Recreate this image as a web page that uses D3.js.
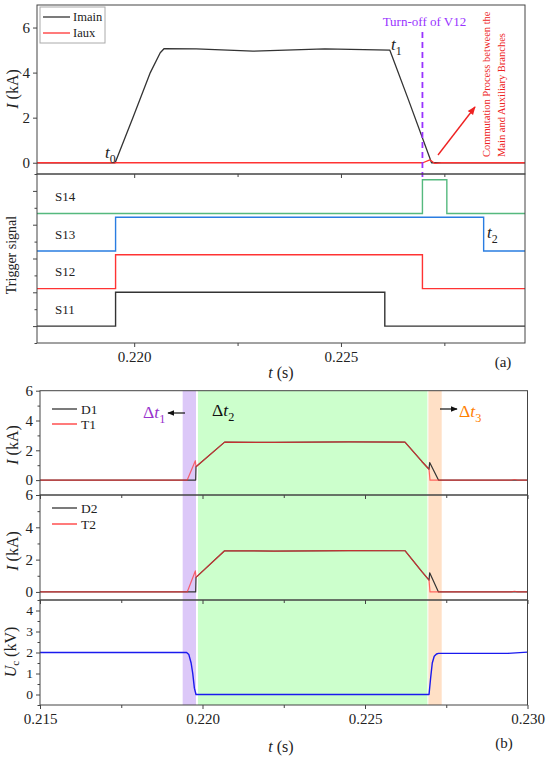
<!DOCTYPE html>
<html>
<head>
<meta charset="utf-8">
<script src="https://d3js.org/d3.v7.min.js"></script>
<style>
    body { margin: 0; background: #ffffff; }
    svg text { font-family: "Liberation Serif", "Times New Roman", serif; fill: #222; }
</style>
</head>
<body>
<div id="svgdiv"></div>
<script>
// ---- data ----
// (a) main / auxiliary branch current (kA)
var imainTime = [0.21765, 0.21954, 0.21998, 0.22039, 0.22063, 0.22072, 0.2215, 0.22287, 0.22461, 0.22618, 0.22663, 0.22719, 0.22945];
var imainCurr = [0, 0, 2.05, 4.0, 4.88, 5.06, 5.05, 4.95, 5.05, 5.0, 2.8, 0, 0];
var iauxTime = [0.21765, 0.22698, 0.22715, 0.22727, 0.22743, 0.22945];
var iauxCurr = [0, 0, 0.13, -0.03, 0, 0];

// (a) trigger signals, step edges (state 0/1) and vertical offset of each trace
var s11Time = [0.21765, 0.21955, 0.22606, 0.22945];
var s11State = [0, 1, 0, 0];
var s12Time = [0.21765, 0.21955, 0.22697, 0.22945];
var s12State = [0, 1, 0, 0];
var s13Time = [0.21765, 0.21955, 0.22845, 0.22945];
var s13State = [0, 1, 0, 0];
var s14Time = [0.21765, 0.22697, 0.22756, 0.22945];
var s14State = [0, 1, 0, 0];
var trigNames = ["S11", "S12", "S13", "S14"];
var trigBase = [0, 1.11, 2.22, 3.33];
var turnOffTime = 0.22697;

// (b) diode / IGBT currents (kA)
var d1Time = [0.215, 0.21979, 0.2198, 0.22068, 0.2222, 0.2245, 0.22623, 0.22675, 0.22697, 0.22699, 0.22726, 0.23];
var d1Curr = [0, 0, 0.9, 2.55, 2.53, 2.56, 2.55, 1.25, 0.73, 1.18, 0, 0];
var t1Time = [0.215, 0.21953, 0.21978, 0.2198, 0.22068, 0.2222, 0.2245, 0.22623, 0.22675, 0.22697, 0.227, 0.2295, 0.2296, 0.2297, 0.23];
var t1Curr = [0, 0, 1.3, 0.9, 2.55, 2.53, 2.56, 2.55, 1.25, 0.73, 0, 0, 0.04, 0, 0];
var d2Time = [0.215, 0.21979, 0.2198, 0.22068, 0.2222, 0.2245, 0.22623, 0.22675, 0.22697, 0.22699, 0.22726, 0.23];
var d2Curr = [0, 0, 0.9, 2.55, 2.53, 2.56, 2.55, 1.25, 0.73, 1.18, 0, 0];
var t2Time = [0.215, 0.21953, 0.21978, 0.2198, 0.22068, 0.2222, 0.2245, 0.22623, 0.22675, 0.22697, 0.227, 0.2295, 0.2296, 0.2297, 0.23];
var t2Curr = [0, 0, 1.3, 0.9, 2.55, 2.53, 2.56, 2.55, 1.25, 0.73, 0, 0, 0.04, 0, 0];

// (b) capacitor voltage (kV)
var ucTime = [0.215, 0.21951, 0.21958, 0.21965, 0.2197, 0.21975, 0.2198, 0.22697, 0.22702, 0.22707, 0.22713, 0.2272, 0.22726, 0.2294, 0.23];
var ucVolt = [2.0, 2.0, 1.9, 1.5, 1.0, 0.3, 0, 0, 0.8, 1.5, 1.82, 1.93, 1.96, 1.96, 2.02];

// (b) shaded intervals dt1, dt2, dt3
var shadeStart = [0.21939, 0.21986, 0.22695];
var shadeEnd = [0.2198, 0.22692, 0.22736];

// tick values
var xTicksA = [0.220, 0.225];
var xMinorA = [0.2225, 0.2275];
var xTicksB = [0.215, 0.220, 0.225, 0.230];
var xMinorB = [0.2175, 0.2225, 0.2275];

// ---- Step 1: svg ----
var svg = d3.select("#svgdiv").append("svg")
    .attr("width", 550)
    .attr("height", 760)
    .style("font-family", "'Liberation Serif', 'Times New Roman', serif");

var defs = svg.append("defs");
function marker(id, color) {
    defs.append("marker")
        .attr("id", id)
        .attr("viewBox", "0 0 10 10")
        .attr("refX", 9).attr("refY", 5)
        .attr("markerWidth", 6).attr("markerHeight", 6)
        .attr("orient", "auto-start-reverse")
        .append("path")
        .attr("d", "M0,1 L10,5 L0,9 Z")
        .attr("fill", color);
}
marker("arrRed", "#ee2222");
marker("arrBlack", "#111");

var frameColor = "#444";
var serif = "'Liberation Serif', 'Times New Roman', serif";

// ---- Step 2: scales ----
var xA = d3.scaleLinear().domain([0.21765, 0.22945]).range([37, 525]);
var yTop = d3.scaleLinear().domain([-0.5, 7]).range([174, 5]);
var yTrig = d3.scaleLinear().domain([-0.5, 4.5]).range([343, 174]);

var xB = d3.scaleLinear().domain([0.215, 0.230]).range([40, 527.5]);
var yB1 = d3.scaleLinear().domain([-1, 6]).range([495, 390.7]);
var yB2 = d3.scaleLinear().domain([-0.5, 6]).range([600, 495]);
var yB3 = d3.scaleLinear().domain([-0.5, 4.5]).range([705, 600]);

// helpers for axes
function styleAxis(g, fs) {
    g.selectAll(".domain").remove();
    g.selectAll("g").style("font-family", serif).style("font-size", fs + "px");
    g.selectAll(".tick line").attr("stroke", frameColor);
    g.selectAll(".tick text")
        .style("font-size", fs + "px")
        .style("font-family", serif)
        .style("fill", "#222");
}
function leftAxis(scale, x, major, minor, labels, fs) {
    var g = svg.append("g").attr("transform", `translate(${x},0)`);
    g.append("g").call(d3.axisLeft(scale).tickValues(minor).tickSize(2.5).tickFormat(""));
    g.append("g").call(d3.axisLeft(scale).tickValues(major).tickSize(4).tickPadding(3)
        .tickFormat(labels ? d3.format("d") : ""));
    styleAxis(g, fs || 15);
}
function bottomAxis(scale, y, major, minor, labels) {
    var g = svg.append("g").attr("transform", `translate(0,${y})`);
    g.append("g").call(d3.axisBottom(scale).tickValues(minor).tickSize(3).tickFormat(""));
    g.append("g").call(d3.axisBottom(scale).tickValues(major).tickSize(4).tickPadding(4)
        .tickFormat(labels ? d3.format(".3f") : ""));
    styleAxis(g, 15);
}
function drawLine(times, vals, xs, ys, color, width, opacity) {
    var pts = times.map((t, i) => [t, vals[i]]);
    svg.append("path")
        .datum(pts)
        .attr("fill", "none")
        .attr("stroke", color)
        .attr("stroke-width", width)
        .attr("stroke-opacity", opacity || 1)
        .attr("stroke-linejoin", "round")
        .attr("d", d3.line().x(d => xs(d[0])).y(d => ys(d[1])));
}
function frame(x0, y0, x1, y1) {
    svg.append("rect")
        .attr("x", x0).attr("y", y0)
        .attr("width", x1 - x0).attr("height", y1 - y0)
        .attr("fill", "none")
        .attr("stroke", frameColor)
        .attr("stroke-width", 1);
}
// italic variable with subscript, e.g. Δt1
function varText(x, y, pre, v, sub, color, size) {
    var t = svg.append("text").attr("x", x).attr("y", y)
        .style("font-size", size + "px").style("fill", color);
    if (pre) t.append("tspan").text(pre);
    t.append("tspan").attr("font-style", "italic").text(v);
    t.append("tspan").style("font-size", (size * 0.7) + "px").attr("dy", size * 0.3).text(sub);
    return t;
}
function yLabel(x, y, size, parts) {
    var t = svg.append("text")
        .attr("transform", `translate(${x},${y}) rotate(-90)`)
        .attr("text-anchor", "middle")
        .style("font-size", size + "px");
    parts.forEach(function(p) {
        var s = t.append("tspan").text(p.text);
        if (p.italic) s.attr("font-style", "italic");
        if (p.size) s.style("font-size", p.size + "px");
        if (p.dy) s.attr("dy", p.dy);
    });
}

// ---- Step 3: panel (a) top, currents ----
drawLine(imainTime, imainCurr, xA, yTop, "#333333", 1.3);
drawLine(iauxTime, iauxCurr, xA, yTop, "#ff3333", 1.3);

// turn-off marker
svg.append("line")
    .attr("x1", xA(turnOffTime)).attr("x2", xA(turnOffTime))
    .attr("y1", 32).attr("y2", 177)
    .attr("stroke", "#9933ff")
    .attr("stroke-width", 1.8)
    .attr("stroke-dasharray", "6,4");
svg.append("text")
    .attr("x", xA(turnOffTime) + 2).attr("y", 26)
    .attr("text-anchor", "middle")
    .style("font-size", "13px")
    .style("fill", "#9933ff")
    .text("Turn-off of V12");

// commutation annotation
svg.append("line")
    .attr("x1", 438).attr("y1", 155).attr("x2", 475).attr("y2", 107)
    .attr("stroke", "#ee2222").attr("stroke-width", 1.4)
    .attr("marker-end", "url(#arrRed)");
svg.append("text")
    .attr("transform", "translate(490,157) rotate(-90)")
    .style("font-size", "10.5px").style("fill", "#ee2222")
    .text("Commutation Process between the");
svg.append("text")
    .attr("transform", "translate(505,157) rotate(-90)")
    .style("font-size", "10.5px").style("fill", "#ee2222")
    .text("Main and Auxiliary Branches");

varText(105, 158, "", "t", "0", "#222", 17);
varText(391, 50, "", "t", "1", "#222", 17);

// legend (a)
svg.append("rect").attr("x", 40).attr("y", 7).attr("width", 65).attr("height", 36)
    .attr("fill", "#fff").attr("stroke", "#aaa");
[["Imain", "#333333", 17], ["Iaux", "#ff3333", 33]].forEach(function(d) {
    svg.append("line").attr("x1", 43).attr("x2", 70).attr("y1", d[2]).attr("y2", d[2])
        .attr("stroke", d[1]).attr("stroke-width", 1.3);
    svg.append("text").attr("x", 73).attr("y", d[2] + 4).style("font-size", "12.5px").text(d[0]);
});

frame(37, 5, 525, 174);
leftAxis(yTop, 37, [0, 2, 4, 6], [], true);
bottomAxis(xA, 174, xTicksA, xMinorA, false);
yLabel(18, 89, 16, [{text: "I", italic: true}, {text: " (kA)"}]);

// ---- Step 4: panel (a) bottom, trigger signals ----
var trigTimes = [s11Time, s12Time, s13Time, s14Time];
var trigStates = [s11State, s12State, s13State, s14State];
var trigColors = ["#333333", "#ff3333", "#2a7de1", "#55b97e"];
trigTimes.forEach(function(times, k) {
    var pts = times.map((t, i) => [t, trigStates[k][i] + trigBase[k]]);
    svg.append("path")
        .datum(pts)
        .attr("fill", "none")
        .attr("stroke", trigColors[k])
        .attr("stroke-width", 1.4)
        .attr("d", d3.line().curve(d3.curveStepAfter).x(d => xA(d[0])).y(d => yTrig(d[1])));
    svg.append("text")
        .attr("x", 55).attr("y", yTrig(trigBase[k] + 0.5) + 4.5)
        .style("font-size", "13px")
        .text(trigNames[k]);
});
varText(487, 238, "", "t", "2", "#222", 17);

frame(37, 174, 525, 343);
leftAxis(yTrig, 37, [0, 1, 2, 3, 4], [-0.5, 0.5, 1.5, 2.5, 3.5, 4.5], false);
bottomAxis(xA, 343, xTicksA, xMinorA, true);
yLabel(16, 255, 14, [{text: "Trigger signal"}]);

var axA = svg.append("text").attr("x", 281).attr("y", 378).attr("text-anchor", "middle").style("font-size", "16px");
axA.append("tspan").attr("font-style", "italic").text("t");
axA.append("tspan").text(" (s)");
svg.append("text").attr("x", 503).attr("y", 367).attr("text-anchor", "middle").style("font-size", "15px").text("(a)");

// ---- Step 5: panel (b) shading ----
var shadeColors = ["#dcc8f8", "#ccffcc", "#ffe0c6"];
svg.selectAll("rect.shade")
    .data(shadeStart)
    .enter()
    .append("rect")
    .attr("class", "shade")
    .attr("x", d => xB(d))
    .attr("y", 390.7)
    .attr("width", (d, i) => xB(shadeEnd[i]) - xB(d))
    .attr("height", 705 - 390.7)
    .attr("fill", (d, i) => shadeColors[i]);

// ---- Step 6: panel (b) curves ----
drawLine(d1Time, d1Curr, xB, yB1, "#333333", 1.2);
drawLine(t1Time, t1Curr, xB, yB1, "#ff3030", 1.2, 0.7);
drawLine(d2Time, d2Curr, xB, yB2, "#333333", 1.2);
drawLine(t2Time, t2Curr, xB, yB2, "#ff3030", 1.2, 0.7);
drawLine(ucTime, ucVolt, xB, yB3, "#1a1aee", 1.4);

// legends (b)
[["D1", "#333333", 409], ["T1", "#ff3333", 424], ["D2", "#333333", 508], ["T2", "#ff3333", 524]].forEach(function(d) {
    svg.append("line").attr("x1", 52).attr("x2", 77).attr("y1", d[2]).attr("y2", d[2])
        .attr("stroke", d[1]).attr("stroke-width", 1.3);
    svg.append("text").attr("x", 81).attr("y", d[2] + 4.5).style("font-size", "13.5px").text(d[0]);
});

// interval labels
varText(143, 418, "\u0394", "t", "1", "#9933cc", 17.5);
svg.append("line").attr("x1", 185).attr("x2", 168).attr("y1", 413).attr("y2", 413)
    .attr("stroke", "#111").attr("stroke-width", 1.2).attr("marker-end", "url(#arrBlack)");
varText(212, 416, "\u0394", "t", "2", "#111", 17.5);
varText(459, 417, "\u0394", "t", "3", "#ff8000", 17.5);
svg.append("line").attr("x1", 440).attr("x2", 457).attr("y1", 409).attr("y2", 409)
    .attr("stroke", "#111").attr("stroke-width", 1.2).attr("marker-end", "url(#arrBlack)");

// frames & axes (b)
frame(40, 390.7, 527.5, 495);
frame(40, 495, 527.5, 600);
frame(40, 600, 527.5, 705);
leftAxis(yB1, 40, [0, 2, 4, 6], [-1, 1, 3, 5], true);
leftAxis(yB2, 40, [0, 2, 4, 6], [1, 3, 5], true);
leftAxis(yB3, 40, [0, 1, 2, 3, 4], [-0.5, 0.5, 1.5, 2.5, 3.5, 4.5], true, 13.5);
bottomAxis(xB, 495, xTicksB, xMinorB, false);
bottomAxis(xB, 600, xTicksB, xMinorB, false);
bottomAxis(xB, 705, xTicksB, xMinorB, true);

yLabel(18, 445, 16, [{text: "I", italic: true}, {text: " (kA)"}]);
yLabel(18, 551, 16, [{text: "I", italic: true}, {text: " (kA)"}]);
yLabel(16, 652, 16, [{text: "U", italic: true}, {text: "c", size: 11, dy: 3}, {text: " (kV)", dy: -3}]);

var axB = svg.append("text").attr("x", 281).attr("y", 752).attr("text-anchor", "middle").style("font-size", "16px");
axB.append("tspan").attr("font-style", "italic").text("t");
axB.append("tspan").text(" (s)");
svg.append("text").attr("x", 504).attr("y", 748).attr("text-anchor", "middle").style("font-size", "15px").text("(b)");
</script>
</body>
</html>
